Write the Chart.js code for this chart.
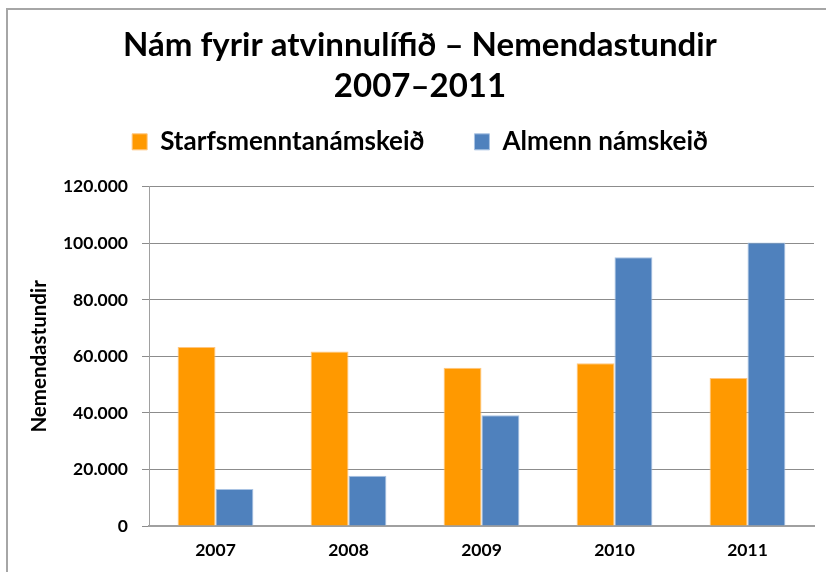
<!DOCTYPE html>
<html>
<head>
<meta charset="utf-8">
<script src="https://cdn.jsdelivr.net/npm/chart.js@4/dist/chart.umd.min.js"></script>
<style>
  html, body { margin: 0; padding: 0; background: #fff; }
  #wrap { position: relative; width: 826px; height: 572px; }
</style>
</head>
<body>
<div id="wrap"><canvas id="c" width="826" height="572"></canvas></div>
<script>
const titleLines = ['Nám fyrir atvinnulífið – Nemendastundir', '2007–2011'];
const categories = ['2007', '2008', '2009', '2010', '2011'];
const seriesNames = ['Starfsmenntanámskeið', 'Almenn námskeið'];
const starfsmennt = [63300, 61700, 56000, 57600, 52400];
const almenn = [13100, 17800, 39200, 95100, 100300];
const yAxisTitle = 'Nemendastundir';
const yMin = 0, yMax = 120000, yStep = 20000;

const FONT = 'Lato, "Open Sans", sans-serif';

const frame = {
  id: 'frame',
  beforeDraw(chart) {
    const ctx = chart.ctx;
    ctx.save();
    ctx.fillStyle = '#ffffff';
    ctx.fillRect(0, 0, chart.width, chart.height);
    ctx.strokeStyle = '#a6a6a6';
    ctx.lineWidth = 2;
    ctx.beginPath();
    ctx.moveTo(7, chart.height);
    ctx.lineTo(7, 9);
    ctx.lineTo(chart.width, 9);
    ctx.stroke();
    ctx.restore();
  }
};

new Chart(document.getElementById('c'), {
  type: 'bar',
  data: {
    labels: categories,
    datasets: [
      { label: seriesNames[0], data: starfsmennt, backgroundColor: '#ff9900', borderColor: '#ffc680', borderWidth: 1, categoryPercentage: 0.57, barPercentage: 1 },
      { label: seriesNames[1], data: almenn, backgroundColor: '#4f81bd', borderColor: '#a9c3e3', borderWidth: 1, categoryPercentage: 0.57, barPercentage: 1 }
    ]
  },
  options: {
    responsive: false,
    animation: false,
    devicePixelRatio: 1,
    layout: { padding: { left: 26, right: 12, top: 0, bottom: 0 } },
    plugins: {
      title: {
        display: true,
        text: titleLines,
        color: '#000',
        font: { family: FONT, size: 33, weight: 'bold', lineHeight: 1.24 },
        padding: { top: 25, bottom: -28 }
      },
      subtitle: {
        display: true,
        text: '',
        weight: 500,
        font: { size: 10, lineHeight: 1 },
        padding: { top: 0, bottom: 12 }
      },
      legend: {
        display: true,
        position: 'top',
        labels: {
          color: '#000',
          font: { family: FONT, size: 26, weight: 'bold' },
          boxWidth: 15,
          boxHeight: 16,
          padding: 50
        }
      },
      tooltip: { enabled: false }
    },
    scales: {
      x: {
        grid: { display: false },
        border: { display: true, color: '#a0a0a0', width: 2 },
        ticks: { color: '#000', font: { family: FONT, size: 17.5, weight: 'bold' }, padding: 6 },
        afterFit(scale) { scale.height = 46; }
      },
      y: {
        min: yMin, max: yMax,
        ticks: {
          stepSize: yStep,
          color: '#000',
          font: { family: FONT, size: 17.5, weight: 'bold' },
          padding: 14,
          callback: v => v === 0 ? '0' : v.toLocaleString('de-DE')
        },
        grid: { color: '#8c8c8c', lineWidth: 1, tickLength: 7, drawTicks: true },
        border: { display: true, color: '#a0a0a0', width: 1 },
        title: {
          display: true,
          text: yAxisTitle,
          color: '#000',
          font: { family: FONT, size: 20.5, weight: 'bold' },
          padding: { top: 1, bottom: 0 }
        },
        afterFit(scale) { scale.width = 123; }
      }
    }
  },
  plugins: [frame]
});
</script>
</body>
</html>
